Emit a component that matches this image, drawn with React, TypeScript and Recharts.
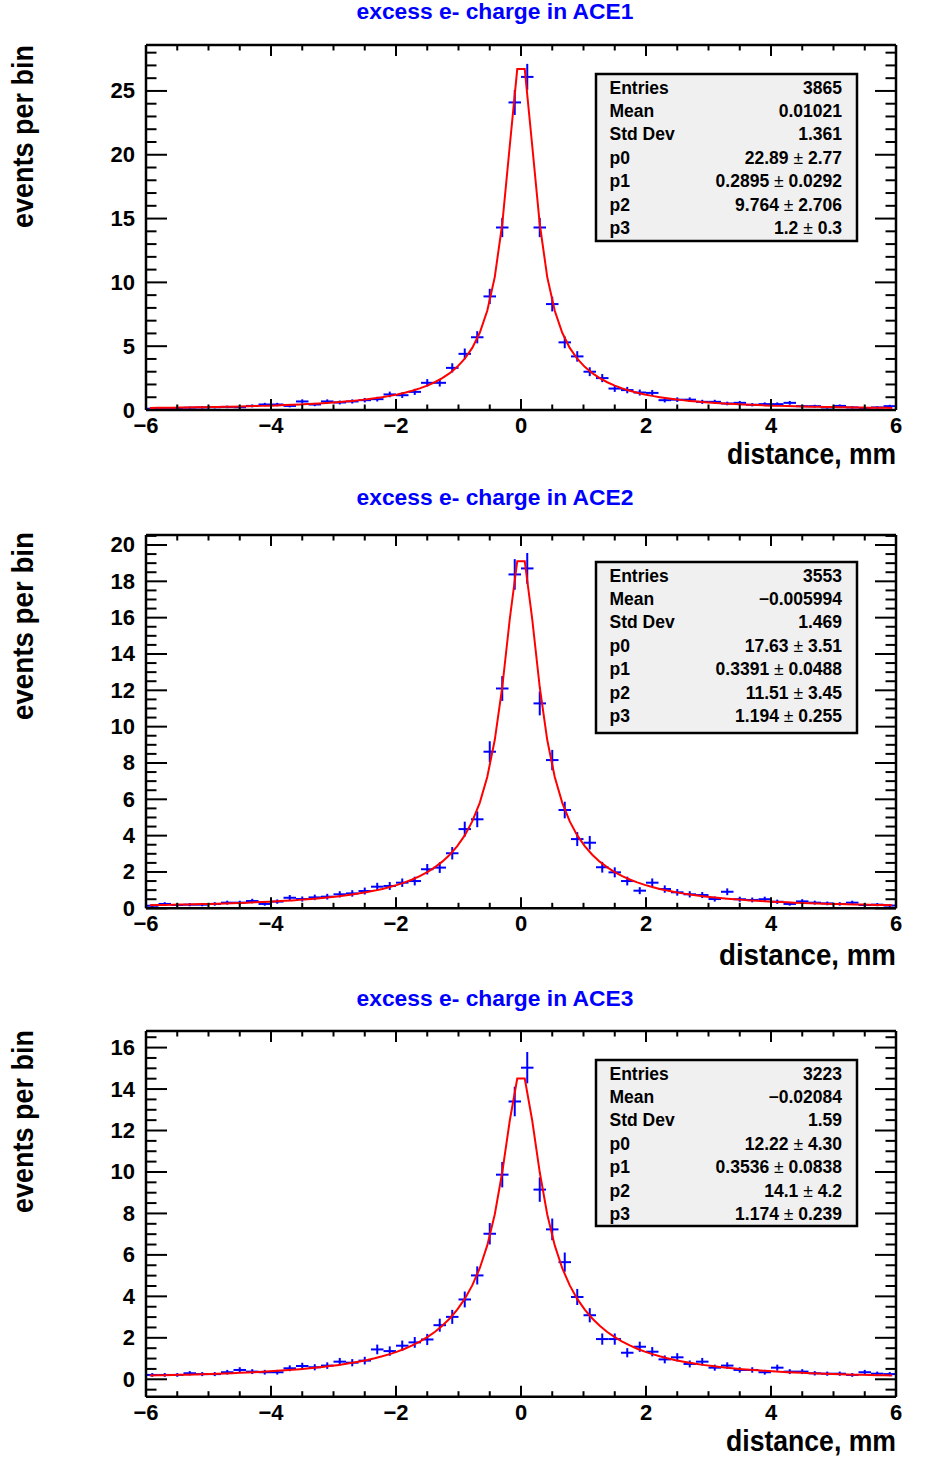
import React from "react";
import { ScatterChart, Scatter, XAxis, YAxis, ErrorBar } from "recharts";

// histogram bins: 60 bins of 0.2 mm between -6 and 6
const binCenters = [
  -5.9, -5.7, -5.5, -5.3, -5.1, -4.9, -4.7, -4.5, -4.3, -4.1,
  -3.9, -3.7, -3.5, -3.3, -3.1, -2.9, -2.7, -2.5, -2.3, -2.1,
  -1.9, -1.7, -1.5, -1.3, -1.1, -0.9, -0.7, -0.5, -0.3, -0.1,
  0.1, 0.3, 0.5, 0.7, 0.9, 1.1, 1.3, 1.5, 1.7, 1.9,
  2.1, 2.3, 2.5, 2.7, 2.9, 3.1, 3.3, 3.5, 3.7, 3.9,
  4.1, 4.3, 4.5, 4.7, 4.9, 5.1, 5.3, 5.5, 5.7, 5.9,
];
const binHalfWidth = 0.1;

const ace1Values = [
  0.1, 0.12, 0.15, 0.18, 0.2, 0.22, 0.24, 0.22, 0.32, 0.43,
  0.43, 0.32, 0.67, 0.43, 0.67, 0.59, 0.67, 0.77, 0.85, 1.22,
  1.16, 1.42, 2.13, 2.13, 3.3, 4.4, 5.7, 8.9, 14.3, 24.1,
  26.1, 14.3, 8.3, 5.3, 4.2, 3.0, 2.5, 1.68, 1.56, 1.37,
  1.34, 0.77, 0.81, 0.81, 0.64, 0.64, 0.51, 0.56, 0.41, 0.46,
  0.46, 0.56, 0.3, 0.3, 0.2, 0.32, 0.2, 0.15, 0.2, 0.3,
];
const ace2Values = [
  0.14, 0.24, 0.18, 0.2, 0.2, 0.24, 0.31, 0.31, 0.4, 0.24,
  0.37, 0.58, 0.51, 0.6, 0.64, 0.77, 0.82, 0.95, 1.19, 1.23,
  1.41, 1.5, 2.15, 2.24, 3.03, 4.36, 4.9, 8.62, 12.1, 18.38,
  18.71, 11.28, 8.16, 5.41, 3.81, 3.61, 2.26, 1.98, 1.5, 0.97,
  1.41, 1.06, 0.88, 0.77, 0.73, 0.51, 0.91, 0.5, 0.46, 0.5,
  0.36, 0.24, 0.38, 0.31, 0.27, 0.24, 0.31, 0.18, 0.2, 0.15,
];
const ace3Values = [
  0.21, 0.21, 0.21, 0.29, 0.25, 0.25, 0.34, 0.45, 0.37, 0.34,
  0.34, 0.53, 0.64, 0.58, 0.66, 0.85, 0.8, 0.9, 1.44, 1.36,
  1.62, 1.78, 1.92, 2.61, 3.01, 3.85, 5.01, 7.02, 9.87, 13.4,
  15.03, 9.15, 7.23, 5.65, 3.97, 3.09, 1.94, 1.94, 1.28, 1.57,
  1.33, 0.96, 1.06, 0.74, 0.85, 0.56, 0.66, 0.45, 0.45, 0.34,
  0.56, 0.37, 0.37, 0.29, 0.27, 0.27, 0.21, 0.34, 0.27, 0.25,
];

// fit parameters p0..p3 as printed in the stat boxes
const fitAce1 = [22.89, 0.2895, 9.764, 1.2];
const fitAce2 = [17.63, 0.3391, 11.51, 1.194];
const fitAce3 = [12.22, 0.3536, 14.1, 1.174];
const fitNpx = 100;

const statLabels = ["Entries", "Mean", "Std Dev", "p0", "p1", "p2", "p3"];
const statsAce1 = ["3865", "0.01021", "1.361", "22.89|2.77", "0.2895|0.0292", "9.764|2.706", "1.2|0.3"];
const statsAce2 = ["3553", "\u22120.005994", "1.469", "17.63|3.51", "0.3391|0.0488", "11.51|3.45", "1.194|0.255"];
const statsAce3 = ["3223", "\u22120.02084", "1.59", "12.22|4.30", "0.3536|0.0838", "14.1|4.2", "1.174|0.239"];

const titles = ["excess e- charge in ACE1", "excess e- charge in ACE2", "excess e- charge in ACE3"];
const xTitle = "distance, mm";
const yTitle = "events per bin";

const xMajor = [-6, -4, -2, 0, 2, 4, 6];
const xMinorStep = 0.5;
const yMajor1 = [0, 5, 10, 15, 20, 25];
const yMajor2 = [0, 2, 4, 6, 8, 10, 12, 14, 16, 18, 20];
const yMajor3 = [0, 2, 4, 6, 8, 10, 12, 14, 16];

const FONT = '"Liberation Sans", Arial, Helvetica, sans-serif';
const frameLine = { stroke: "#000", strokeWidth: 2.5 };

function stepTicks(lo: number, hi: number, step: number) {
  const out: number[] = [];
  for (let v = Math.ceil(lo / step - 1e-9) * step; v <= hi + 1e-9; v += step) out.push(Math.round(v * 1000) / 1000);
  return out;
}

// sum of two Lorentzians (normalised Cauchy shapes)
function fitModel(x: number, p: number[]) {
  return (p[0] * p[1]) / (Math.PI * (x * x + p[1] * p[1])) + (p[2] * p[3]) / (Math.PI * (x * x + p[3] * p[3]));
}

const isMajor = (v: number, major: number[]) => major.some((m) => Math.abs(m - v) < 1e-6);
const fmt = (v: number) => (v < 0 ? `\u2212${-v}` : `${v}`);

const makeTick = (side: string, major: number[], labels: boolean) => (props: any) => {
  const { x, y, payload } = props;
  const big = isMajor(payload.value, major);
  const horiz = side === "bottom" || side === "top";
  const len = horiz ? (big ? 11 : 5.5) : big ? 21 : 10.5;
  let x2 = x, y2 = y;
  if (side === "bottom") y2 = y - len;
  if (side === "top") y2 = y + len;
  if (side === "left") x2 = x + len;
  if (side === "right") x2 = x - len;
  return (
    <g>
      <line x1={x} y1={y} x2={x2} y2={y2} stroke="#000" strokeWidth={2} />
      {labels && big && side === "bottom" && (
        <text x={x} y={y + 23} textAnchor="middle" fontFamily={FONT} fontWeight="bold" fontSize={22} fill="#000">
          {fmt(payload.value)}
        </text>
      )}
      {labels && big && side === "left" && (
        <text x={x - 11} y={y + 7.5} textAnchor="end" fontFamily={FONT} fontWeight="bold" fontSize={22} fill="#000">
          {fmt(payload.value)}
        </text>
      )}
    </g>
  );
};

const noMark = () => <g />;

type PanelProps = {
  top: number;
  height: number;
  frameTop: number;
  frameBottom: number;
  yDomain: [number, number];
  yMajor: number[];
  yMinorStep: number;
  values: number[];
  entries: number;
  fit: number[];
};

function Panel(p: PanelProps) {
  const total = p.values.reduce((a, b) => a + b, 0);
  const scale = total / p.entries;
  const rows = binCenters.map((x, i) => ({
    x,
    y: p.values[i],
    ex: binHalfWidth,
    ey: Math.sqrt(p.values[i] * scale),
  }));
  const fitRows = Array.from({ length: fitNpx }, (_, i) => {
    const x = -6 + ((i + 0.5) * 12) / fitNpx;
    return { x, y: fitModel(x, p.fit) };
  });
  const xTicks = stepTicks(-6, 6, xMinorStep);
  const yTicks = stepTicks(p.yDomain[0], p.yDomain[1], p.yMinorStep);
  const margin = {
    top: p.frameTop - p.top - 10,
    bottom: p.top + p.height - p.frameBottom - 40,
    left: 96,
    right: 20,
  };
  return (
    <div style={{ position: "absolute", left: 0, top: p.top }}>
      <ScatterChart width={926} height={p.height} margin={margin}>
        <XAxis dataKey="x" type="number" domain={[-6, 6]} allowDataOverflow ticks={xTicks} interval={0}
          tickSize={0} tickMargin={0} tickLine={false} axisLine={frameLine} height={40}
          tick={makeTick("bottom", xMajor, true)} />
        <XAxis xAxisId="top" orientation="top" dataKey="x" type="number" domain={[-6, 6]} allowDataOverflow
          ticks={xTicks} interval={0} tickSize={0} tickMargin={0} tickLine={false} axisLine={frameLine} height={10}
          tick={makeTick("top", xMajor, false)} />
        <YAxis dataKey="y" type="number" domain={p.yDomain} allowDataOverflow ticks={yTicks} interval={0}
          tickSize={0} tickMargin={0} tickLine={false} axisLine={frameLine} width={50}
          tick={makeTick("left", p.yMajor, true)} />
        <YAxis yAxisId="right" orientation="right" dataKey="y" type="number" domain={p.yDomain} allowDataOverflow
          ticks={yTicks} interval={0} tickSize={0} tickMargin={0} tickLine={false} axisLine={frameLine} width={10}
          tick={makeTick("right", p.yMajor, false)} />
        <Scatter xAxisId="top" yAxisId="right" data={fitRows} dataKey="y" shape={noMark} isAnimationActive={false} />
        <Scatter data={rows} dataKey="y" shape={noMark} isAnimationActive={false}>
          <ErrorBar dataKey="ey" direction="y" width={0} stroke="#0000ff" strokeWidth={2} isAnimationActive={false} />
          <ErrorBar dataKey="ex" direction="x" width={0} stroke="#0000ff" strokeWidth={2} isAnimationActive={false} />
        </Scatter>
        <Scatter data={fitRows} dataKey="y" shape={noMark} line={{ stroke: "#ff0000", strokeWidth: 2 }}
          lineType="joint" isAnimationActive={false} />
      </ScatterChart>
    </div>
  );
}

function StatBox({ top, height, values }: { top: number; height: number; values: string[] }) {
  return (
    <g fontFamily={FONT} fontWeight="bold" fontSize={17.5} fill="#000">
      <rect x={596} y={top} width={261} height={height} fill="#f0f0f0" stroke="#000" strokeWidth={2.5} />
      {statLabels.map((lab, i) => {
        const yy = top + 19.6 + i * 23.4;
        const parts = values[i].split("|");
        return (
          <g key={lab}>
            <text x={609.5} y={yy}>{lab}</text>
            <text x={842} y={yy} textAnchor="end">
              {parts.length === 1 ? (
                parts[0]
              ) : (
                <>
                  {`${parts[0]} `}
                  <tspan fontWeight="normal">{"\u00b1"}</tspan>
                  {` ${parts[1]}`}
                </>
              )}
            </text>
          </g>
        );
      })}
    </g>
  );
}

function Overlay() {
  const titleY = [19, 505, 1006];
  const xTitleY = [464, 965, 1451];
  const xTitleLen = [169, 177, 170];
  const yTitleTop = [45, 532, 1030];
  const yTitleLen = [183, 188, 183];
  return (
    <svg width={926} height={1465} style={{ position: "absolute", left: 0, top: 0, pointerEvents: "none" }}>
      {titles.map((t, i) => (
        <text key={t} x={495} y={titleY[i]} textAnchor="middle" fontFamily={FONT} fontWeight="bold" fontSize={22}
          fill="#0000ff" textLength={277} lengthAdjust="spacingAndGlyphs">
          {t}
        </text>
      ))}
      {xTitleY.map((y, i) => (
        <text key={"x" + i} x={896} y={y} textAnchor="end" fontFamily={FONT} fontWeight="bold" fontSize={30}
          fill="#000" textLength={xTitleLen[i]} lengthAdjust="spacingAndGlyphs">
          {xTitle}
        </text>
      ))}
      {yTitleTop.map((y, i) => (
        <text key={"y" + i} x={0} y={0} transform={`translate(33 ${y}) rotate(-90)`} textAnchor="end"
          fontFamily={FONT} fontWeight="bold" fontSize={30} fill="#000" textLength={yTitleLen[i]}
          lengthAdjust="spacingAndGlyphs">
          {yTitle}
        </text>
      ))}
      <StatBox top={74} height={167} values={statsAce1} />
      <StatBox top={562} height={171} values={statsAce2} />
      <StatBox top={1060} height={166} values={statsAce3} />
    </svg>
  );
}

export default function App() {
  return (
    <div style={{ position: "absolute", left: 0, top: 0, width: 926, height: 1465, background: "#fff" }}>
      <Panel top={0} height={490} frameTop={45} frameBottom={410} yDomain={[0, 28.6]} yMajor={yMajor1}
        yMinorStep={1} values={ace1Values} entries={3865} fit={fitAce1} />
      <Panel top={490} height={490} frameTop={535} frameBottom={908.3} yDomain={[0, 20.55]} yMajor={yMajor2}
        yMinorStep={0.5} values={ace2Values} entries={3553} fit={fitAce2} />
      <Panel top={980} height={485} frameTop={1031} frameBottom={1396.7} yDomain={[-0.84, 16.8]} yMajor={yMajor3}
        yMinorStep={0.5} values={ace3Values} entries={3223} fit={fitAce3} />
      <Overlay />
    </div>
  );
}
